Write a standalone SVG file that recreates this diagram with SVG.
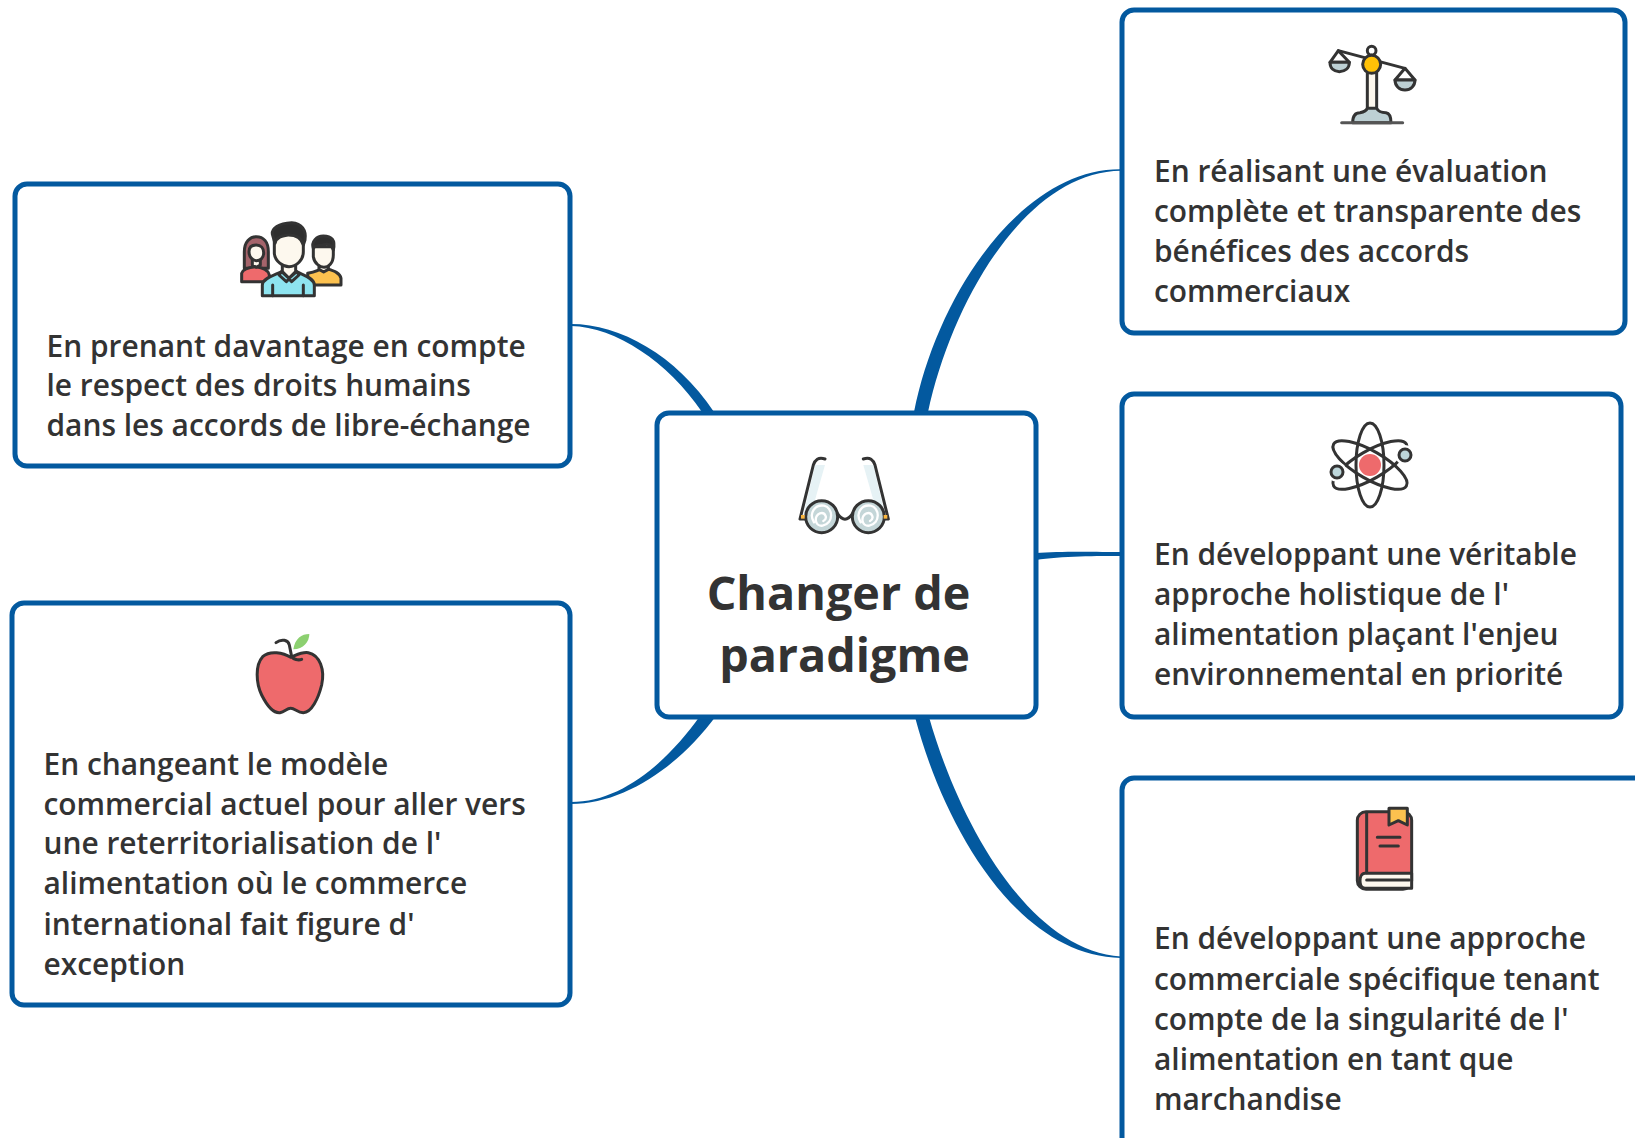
<svg xmlns="http://www.w3.org/2000/svg" width="1635" height="1138" viewBox="0 0 1635 1138">
<style>
.box{fill:#fff;stroke:#03599f;stroke-width:5}
.t{font-family:"Open Sans","Noto Sans","DejaVu Sans",sans-serif;font-weight:600;font-size:29.9px;fill:#333}
.c{font-family:"Open Sans","Noto Sans","DejaVu Sans",sans-serif;font-weight:700;font-size:46.7px;fill:#333;text-anchor:middle}
.k{stroke:#333;stroke-width:3;stroke-linejoin:round;stroke-linecap:round}
.n{fill:none}
.i{stroke-width:9}
</style>
<rect width="1635" height="1138" fill="#fff"/>
<g id="connectors" fill="#03599f">
<path d="M914,412C938,292 1023,168.5 1121,169.3L1121,170.7C1027,172 953,298 928,412Z"/>
<path d="M571,324C620,324 676,355 714,412L702,412C668,362 616,327 571,326Z"/>
<path d="M571,804C625,804 680,765 716,716L700,716C665,765 620,802 571,802Z"/>
<path d="M915,717C943,824 1016,956 1121,958L1121,956.5C1026,950 957,816 929,717Z"/>
<path d="M1036,553C1060,551 1100,552 1121,552L1121,556C1100,556 1060,556 1036,560Z"/>
</g>
<g id="node-center">
<rect class="box" x="657" y="413" width="379" height="304" rx="12"/>
<g transform="translate(780 445) scale(.3333)">
<g class="k" style="stroke-width:9">
<path d="M105,60L135,60L95,200L70,210Z M280,60L250,60L290,200L315,210Z" fill="#e6f2f5" stroke="none"/>
<path class="n" d="M135,42C115,35 105,45 100,60L60,222H78M250,42C270,35 280,45 285,60L325,222H308"/>
<path class="n" d="M172,205Q195,240 218,205"/>
<circle cx="125" cy="215" r="48" fill="#c4d6d8"/>
<circle cx="265" cy="215" r="48" fill="#c4d6d8"/>
</g>
<path class="n" stroke="#fff" stroke-width="7" stroke-linecap="round" d="M102,232C85,205 105,178 132,182C160,188 162,235 128,242C105,245 100,215 120,205C135,200 145,220 130,228"/>
<path class="n" stroke="#fff" stroke-width="7" stroke-linecap="round" d="M242,232C225,205 245,178 272,182C300,188 302,235 268,242C245,245 240,215 260,205C275,200 285,220 270,228"/>
<rect x="63" y="210" width="11" height="11" fill="#fcb73e"/>
<rect x="311" y="210" width="11" height="11" fill="#fcb73e"/>
</g>
<text class="c" x="838.5" y="610">Changer de</text>
<text class="c" x="844.5" y="672">paradigme</text>
</g>
<g id="node-top-right">
<rect class="box" x="1122" y="10" width="503" height="323" rx="12"/>
<g transform="translate(1310 30) scale(.3333)">
<g class="k" style="stroke-width:9">
<circle cx="185" cy="62" r="13" fill="#fff"/>
<rect x="172" y="100" width="28" height="140" fill="#fdf8ee"/>
<path class="n" d="M85,62L285,115"/>
<path d="M172,235H200C205,245 215,248 228,248C240,250 243,265 243,278H128C128,260 135,248 150,248C165,245 170,240 172,235Z" fill="#bdd0d4"/>
<path d="M95,278H278" stroke="#555"/>
<path d="M85,62L60,97H118Z" fill="#fff"/>
<path d="M60,97H118C118,115 105,125 88,125C72,125 60,115 60,97Z" fill="#bdd0d4"/>
<path d="M285,115L255,150H315Z" fill="#fff"/>
<path d="M255,150H315C315,168 302,180 285,180C268,180 255,168 255,150Z" fill="#bdd0d4"/>
<circle cx="185" cy="103" r="27" fill="#ffc107"/>
</g></g>
<text class="t" x="1154" y="182">En réalisant une évaluation</text>
<text class="t" x="1154" y="222">complète et transparente des</text>
<text class="t" x="1154" y="262">bénéfices des accords</text>
<text class="t" x="1154" y="302">commerciaux</text>
</g>
<g id="node-mid-right">
<rect class="box" x="1122" y="394" width="499" height="323" rx="12"/>
<g class="k n" transform="translate(1370 465)">
<ellipse rx="14" ry="42"/>
<ellipse rx="14" ry="42" transform="rotate(60)"/>
<ellipse rx="14" ry="42" transform="rotate(-60)"/>
<circle cx="35" cy="-10" r="10" fill="#fff" stroke="none"/>
<circle cx="-33" cy="7" r="10" fill="#fff" stroke="none"/>
<circle cx="35" cy="-10" r="6" fill="#bdd6da"/>
<circle cx="-33" cy="7" r="6" fill="#bdd6da"/>
<circle r="11" fill="#ee6a6c" stroke="none"/>
</g>
<text class="t" x="1154" y="565">En développant une véritable</text>
<text class="t" x="1154" y="605">approche holistique de l'</text>
<text class="t" x="1154" y="645">alimentation plaçant l'enjeu</text>
<text class="t" x="1154" y="685">environnemental en priorité</text>
</g>
<g id="node-bottom-right">
<rect class="box" x="1122" y="778" width="540" height="381" rx="12"/>
<g transform="translate(1320 790) scale(.3333)">
<g class="k" style="stroke-width:9">
<rect x="112" y="65" width="163" height="233" rx="26" fill="#ee6a6c"/>
<path d="M275,250H135C115,250 115,295 135,295H275Z" fill="#fdf8ee"/>
<path class="n" d="M140,68V248M140,270H268M172,142H240M180,168H235"/>
<path d="M207,55H262V105L235,92L207,105Z" fill="#fcc14f"/>
</g></g>
<text class="t" x="1154" y="949">En développant une approche</text>
<text class="t" x="1154" y="990">commerciale spécifique tenant</text>
<text class="t" x="1154" y="1030">compte de la singularité de l'</text>
<text class="t" x="1154" y="1070">alimentation en tant que</text>
<text class="t" x="1154" y="1110">marchandise</text>
</g>
<g id="node-left-top">
<rect class="box" x="15" y="184" width="555" height="282" rx="12"/>
<g transform="translate(225 210) scale(.3333)">
<g class="k" style="stroke-width:9">
<path d="M58,175V125C58,95 75,80 94,80C115,80 130,95 130,125V175Z" fill="#a5646b"/>
<path d="M50,215V190C52,178 75,172 92,170C110,172 130,178 133,195V215Z" fill="#ee6a6c"/>
<path d="M82,145V165L94,172L106,165V145Z" fill="#fdf8ee"/>
<path d="M72,125C72,110 80,105 94,105C108,105 116,115 116,128C116,145 105,152 94,152C82,152 72,140 72,125Z" fill="#fdf8ee"/>
<path d="M248,190C270,185 285,180 295,172C315,180 345,185 348,205V225H250Z" fill="#fcc14f"/>
<path d="M282,160V178L296,186L310,178V160Z" fill="#fdf8ee"/>
<path d="M265,110V140C268,160 285,172 297,172C310,172 325,160 325,135V110Z" fill="#fdf8ee"/>
<path d="M265,115C258,95 275,78 295,78C320,78 332,90 325,120C320,105 310,100 295,105C280,108 270,105 265,115Z" fill="#2e2e2e"/>
<path d="M112,257V225C112,205 150,195 170,185H215C235,195 268,205 268,225V257Z" fill="#8ee4f0"/>
<path d="M172,155V185L192,205L212,185V155Z" fill="#fdf8ee"/>
<path d="M170,185L192,205L215,185L222,195L200,215L192,207L184,215L162,195Z" fill="#8ee4f0"/>
<path class="n" d="M143,225V257M235,225V257"/>
<path d="M148,70V130C150,155 175,170 192,170C215,170 235,150 235,125V70Z" fill="#fdf8ee"/>
<path d="M142,72C140,55 160,40 200,38C230,40 245,60 240,90L235,105C230,85 215,75 190,75C170,78 155,80 150,100Z" fill="#2e2e2e"/>
</g></g>
<text class="t" x="46.5" y="357">En prenant davantage en compte</text>
<text class="t" x="46.5" y="396">le respect des droits humains</text>
<text class="t" x="46.5" y="436">dans les accords de libre-échange</text>
</g>
<g id="node-left-bottom">
<rect class="box" x="12" y="603" width="558" height="402" rx="12"/>
<g transform="translate(220 620) scale(.3333)">
<g class="k" style="stroke-width:9">
<path d="M220,88C225,55 245,42 268,42C268,65 250,88 220,88Z" fill="#8cd070" stroke="none"/>
<path d="M212,112C190,98 150,90 128,110C105,135 108,190 125,225C140,255 160,280 180,278C195,275 200,265 212,265C225,265 232,277 250,278C275,278 295,235 305,195C315,150 300,105 265,98C245,95 230,105 212,112Z" fill="#ee6a6c"/>
<path class="n" d="M168,68C185,55 205,60 208,75L215,110C220,118 235,122 245,118"/>
</g></g>
<text class="t" x="43.5" y="775">En changeant le modèle</text>
<text class="t" x="43.5" y="815">commercial actuel pour aller vers</text>
<text class="t" x="43.5" y="854">une reterritorialisation de l'</text>
<text class="t" x="43.5" y="894">alimentation où le commerce</text>
<text class="t" x="43.5" y="935">international fait figure d'</text>
<text class="t" x="43.5" y="975">exception</text>
</g>
</svg>
